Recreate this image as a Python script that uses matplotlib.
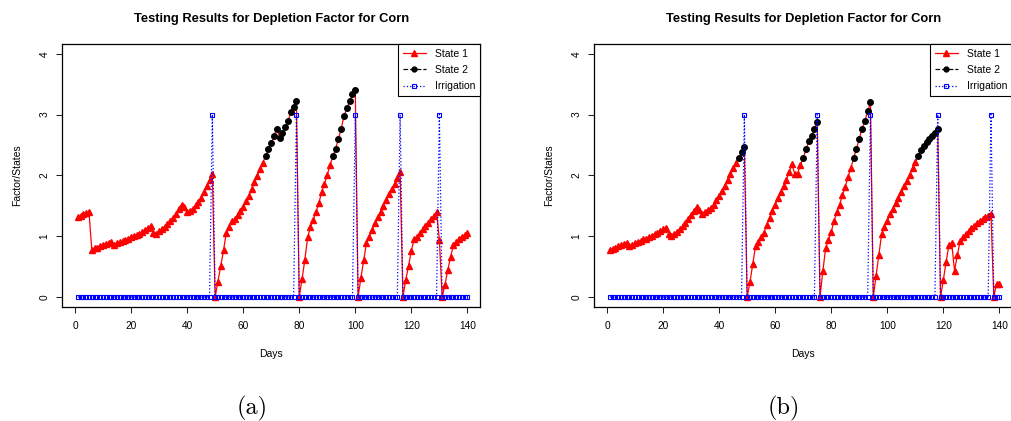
import numpy as np
import matplotlib
matplotlib.use("Agg")
import matplotlib.pyplot as plt
from matplotlib.lines import Line2D

plt.rcParams['font.family'] = ['Liberation Sans', 'DejaVu Sans']

# ---- data (one value per day, days 1..140) ----
days = np.arange(1, 141)

factor_a = [
    1.31, 1.33, 1.36, 1.38, 1.39,
    0.77, 0.80, 0.81, 0.84, 0.85, 0.87, 0.89, 0.91,
    0.86, 0.88, 0.90, 0.92, 0.93, 0.96, 0.98, 1.00, 1.02, 1.04, 1.07, 1.10, 1.13, 1.16,
    1.05, 1.04, 1.08, 1.11, 1.15, 1.20, 1.25, 1.30, 1.36, 1.44, 1.52,
    1.48, 1.39, 1.42, 1.45, 1.51, 1.56, 1.63, 1.73, 1.82, 1.92, 2.02,
    0.00,
    0.25, 0.51, 0.77, 1.06, 1.15, 1.25, 1.28, 1.35, 1.42, 1.48, 1.57, 1.66, 1.77, 1.89, 1.99, 2.10, 2.21,
    2.31, 2.43, 2.53, 2.65, 2.77, 2.62, 2.69, 2.79, 2.89, 3.04, 3.13, 3.22,
    0.00,
    0.29, 0.61, 0.98, 1.15, 1.27, 1.40, 1.54, 1.73, 1.86, 2.01, 2.17,
    2.31, 2.44, 2.60, 2.77, 2.98, 3.10, 3.22, 3.33, 3.41,
    0.00,
    0.31, 0.60, 0.89, 0.99, 1.10, 1.21, 1.31, 1.40, 1.50, 1.59, 1.69, 1.77, 1.86, 1.95, 2.05,
    0.00,
    0.28, 0.51, 0.76, 0.95, 0.99, 1.05, 1.11, 1.17, 1.22, 1.28, 1.33, 1.40,
    0.94,
    0.00,
    0.20, 0.44, 0.66, 0.85, 0.91, 0.95, 0.98, 1.02, 1.06,
]
state2_a = [(68, 79), (92, 100)]
irrigation_a = [49, 79, 100, 116, 130]

factor_b = [
    0.77, 0.79, 0.81, 0.83, 0.85, 0.87, 0.89,
    0.84, 0.85, 0.88, 0.90, 0.92, 0.95, 0.96, 0.99, 1.01, 1.03, 1.06, 1.09, 1.11, 1.14,
    1.03, 1.00, 1.03, 1.07, 1.11, 1.16, 1.22, 1.28, 1.34, 1.42, 1.48,
    1.43, 1.36, 1.39, 1.43, 1.47, 1.52, 1.59, 1.66, 1.74, 1.83, 1.93, 2.03, 2.12, 2.21,
    2.28, 2.38, 2.47,
    0.00,
    0.24, 0.54, 0.84, 0.91, 0.99, 1.06, 1.19, 1.30, 1.42, 1.52, 1.62, 1.73, 1.83, 1.93, 2.06, 2.18,
    2.02, 2.03, 2.17,
    2.28, 2.43, 2.56, 2.65, 2.77, 2.88,
    0.00,
    0.42, 0.80, 0.94, 1.07, 1.25, 1.39, 1.52, 1.67, 1.81, 1.98, 2.12,
    2.28, 2.44, 2.60, 2.77, 2.89, 3.05, 3.20,
    0.00,
    0.35, 0.69, 1.04, 1.15, 1.25, 1.36, 1.45, 1.55, 1.63, 1.73, 1.82, 1.91, 2.01, 2.12, 2.22,
    2.32, 2.42, 2.48, 2.55, 2.60, 2.64, 2.69, 2.76,
    0.00,
    0.28, 0.58, 0.85, 0.88, 0.43, 0.69, 0.92, 0.98, 1.03, 1.08, 1.13, 1.16, 1.21, 1.25,
    1.28, 1.31, 1.33, 1.37,
    0.00,
    0.22, 0.22,
]
state2_b = [(47, 49), (70, 75), (88, 94), (111, 118)]
irrigation_b = [49, 75, 94, 118, 137]

irrigation_level = 3


def draw_panel(ax, factor, state2, irr_days):
    factor = np.asarray(factor)
    is2 = np.zeros(len(days), dtype=bool)
    for lo, hi in state2:
        is2 |= (days >= lo) & (days <= hi)
    irr = np.where(np.isin(days, irr_days), irrigation_level, 0)

    ax.plot(days, factor, color='red', lw=0.9, zorder=2)
    ax.plot(days[~is2], factor[~is2], '^', color='red', ms=5, zorder=3)
    ax.plot(days[is2], factor[is2], 'o', color='black', ms=4, zorder=4)
    ax.plot(days, irr, color='blue', ls=':', lw=0.9, marker='s', ms=2.6,
            mfc='none', mec='blue', mew=0.8, zorder=5)

    ax.set_xlim(-4.53, 144.5)
    ax.set_ylim(-0.16, 4.16)
    ax.set_xticks(range(0, 141, 20))
    ax.set_yticks(range(0, 5))
    ax.set_yticklabels([str(v) for v in range(0, 5)], rotation=90, va='center')
    ax.tick_params(length=4.3, width=0.75, labelsize=7.3, color='#222222')
    ax.tick_params(axis='x', pad=6)
    ax.tick_params(axis='y', pad=5)
    for sp in ax.spines.values():
        sp.set_linewidth(0.9)
    ax.set_title('Testing Results for Depletion Factor for Corn',
                 fontsize=9.3, fontweight='bold', pad=16)

    handles = [
        Line2D([], [], color='red', lw=0.9, marker='^', ms=5),
        Line2D([], [], color='black', lw=0.9, ls='--', marker='o', ms=3.5),
        Line2D([], [], color='blue', lw=0.9, ls=':', marker='s', ms=3,
               mfc='none', mew=0.8),
    ]
    leg = ax.legend(handles, ['State 1', 'State 2', 'Irrigation'],
                    loc='upper right', bbox_to_anchor=(1, 1), borderaxespad=0,
                    fontsize=7.5, fancybox=False, framealpha=1, edgecolor='black',
                    handlelength=2.2, handletextpad=0.9, labelspacing=0.6,
                    borderpad=0.45)
    leg.get_frame().set_linewidth(0.8)


W, H = 1011, 421
fig = plt.figure(figsize=(W / 100, H / 100), dpi=100)
ax_a = fig.add_axes([62.3 / W, (H - 306.7) / H, 417.7 / W, 262.7 / H])
ax_b = fig.add_axes([594.3 / W, (H - 306.7) / H, 417.7 / W, 262.7 / H])

draw_panel(ax_a, factor_a, state2_a, irrigation_a)
draw_panel(ax_b, factor_b, state2_b, irrigation_b)

for x_lab, x_y, x_cap, cap in [(271, 17, 252, '(a)'), (803, 549, 784, '(b)')]:
    fig.text(x_lab / W, 1 - 354 / H, 'Days', fontsize=7.5, ha='center', va='center')
    fig.text(x_y / W, 1 - 175 / H, 'Factor/States', fontsize=7.5, rotation=90,
             ha='center', va='center')
    fig.text(x_cap / W, 1 - 408 / H, cap, family='cmr10', fontsize=17.5,
             ha='center', va='center')

fig.savefig('out.png', dpi=100)
